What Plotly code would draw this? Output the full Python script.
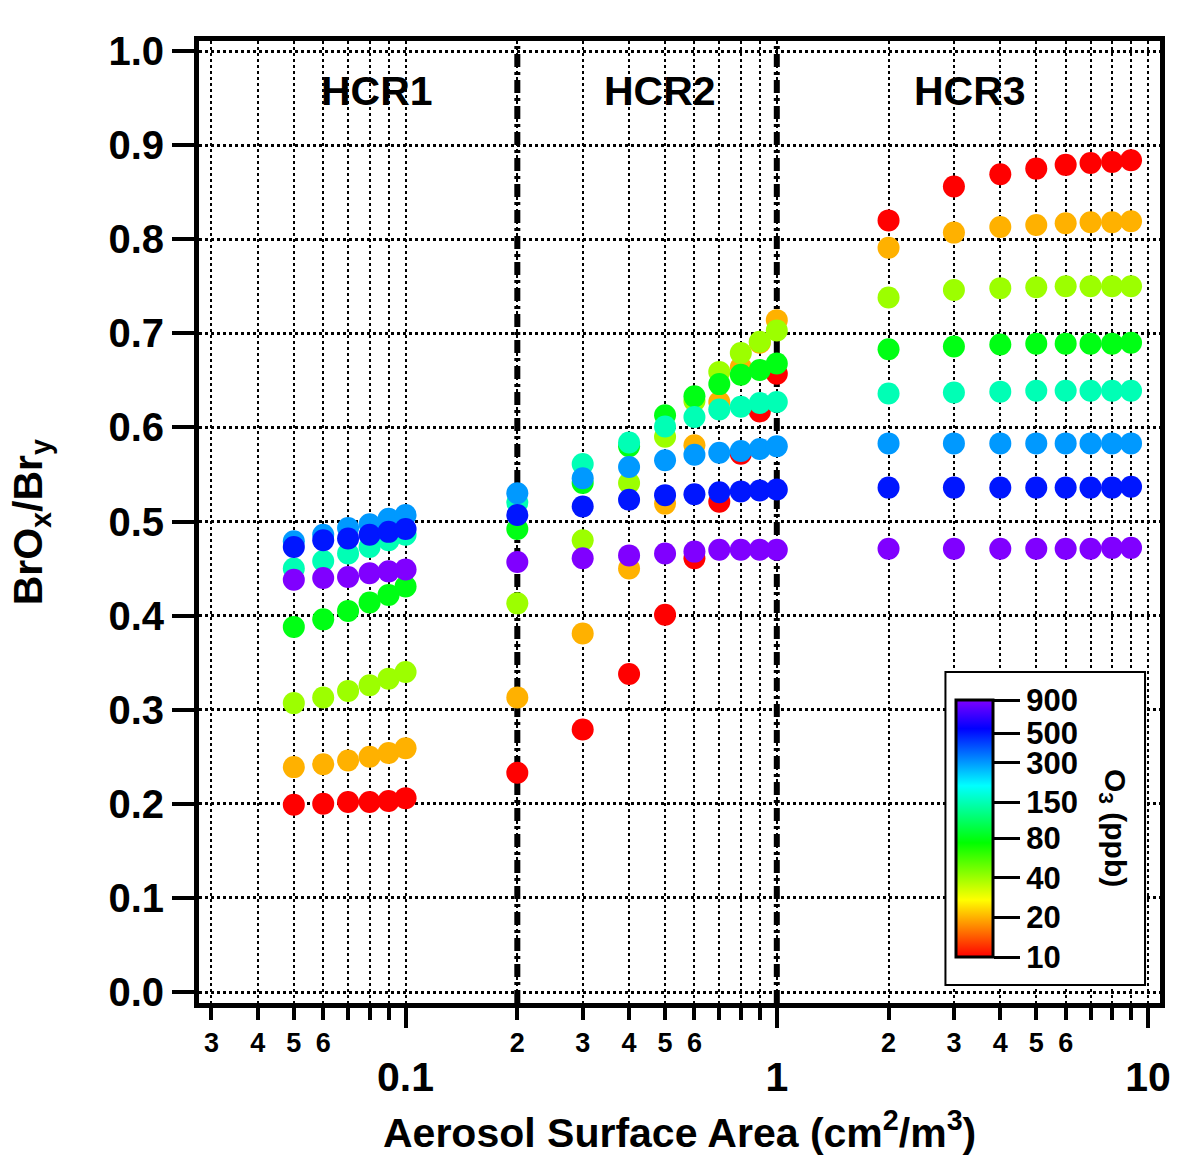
import math
import plotly.graph_objects as go

# ---------------- data ----------------
x_hcr1 = [0.05, 0.06, 0.07, 0.08, 0.09, 0.10]
x_hcr2 = [0.2, 0.3, 0.4, 0.5, 0.6, 0.7, 0.8, 0.9, 1.0]
x_hcr3 = [2, 3, 4, 5, 6, 7, 8, 9]
o3_levels = [10, 20, 40, 80, 150, 300, 500, 900]

# BrOx/Bry for each O3 level: HCR1 (6) + HCR2 (9) + HCR3 (8)
ratio_o3_10 = [0.199, 0.200, 0.202, 0.202, 0.203, 0.206,
               0.233, 0.279, 0.338, 0.401, 0.461, 0.521, 0.572, 0.617, 0.657,
               0.820, 0.856, 0.869, 0.875, 0.879, 0.881, 0.882, 0.884]
ratio_o3_20 = [0.239, 0.242, 0.246, 0.250, 0.254, 0.259,
               0.313, 0.381, 0.450, 0.519, 0.581, 0.627, 0.664, 0.690, 0.714,
               0.791, 0.807, 0.813, 0.815, 0.817, 0.818, 0.818, 0.819]
ratio_o3_40 = [0.307, 0.313, 0.320, 0.326, 0.333, 0.340,
               0.413, 0.480, 0.541, 0.590, 0.628, 0.659, 0.679, 0.691, 0.703,
               0.738, 0.746, 0.748, 0.749, 0.750, 0.750, 0.750, 0.750]
ratio_o3_80 = [0.388, 0.396, 0.405, 0.414, 0.422, 0.431,
               0.492, 0.541, 0.580, 0.613, 0.633, 0.646, 0.656, 0.661, 0.668,
               0.683, 0.686, 0.688, 0.689, 0.689, 0.689, 0.689, 0.690]
ratio_o3_150 = [0.450, 0.458, 0.466, 0.473, 0.480, 0.486,
                0.520, 0.561, 0.584, 0.601, 0.611, 0.619, 0.622, 0.626, 0.627,
                0.636, 0.637, 0.638, 0.639, 0.639, 0.639, 0.639, 0.639]
ratio_o3_300 = [0.479, 0.486, 0.493, 0.497, 0.503, 0.507,
                0.530, 0.546, 0.558, 0.565, 0.571, 0.573, 0.575, 0.577, 0.580,
                0.583, 0.583, 0.583, 0.583, 0.583, 0.583, 0.583, 0.583]
ratio_o3_500 = [0.473, 0.480, 0.482, 0.486, 0.489, 0.492,
                0.507, 0.516, 0.523, 0.528, 0.529, 0.531, 0.532, 0.533, 0.534,
                0.536, 0.536, 0.536, 0.536, 0.536, 0.536, 0.536, 0.537]
ratio_o3_900 = [0.438, 0.440, 0.441, 0.445, 0.447, 0.449,
                0.457, 0.461, 0.464, 0.466, 0.468, 0.470, 0.470, 0.470, 0.470,
                0.471, 0.471, 0.471, 0.471, 0.471, 0.471, 0.472, 0.472]

region_labels = ["HCR1", "HCR2", "HCR3"]
region_label_x = [0.084, 0.485, 3.32]
region_bounds = [0.2, 1.0]

labeled_tick_vals = [0.03, 0.04, 0.05, 0.06,
                     0.2, 0.3, 0.4, 0.5, 0.6,
                     2, 3, 4, 5, 6]
labeled_tick_text = ["3", "4", "5", "6",
                     "2", "3", "4", "5", "6",
                     "2", "3", "4", "5", "6"]
unlabeled_tick_vals = [0.07, 0.08, 0.09, 0.7, 0.8, 0.9, 7, 8, 9]
major_tick_vals = [0.1, 1, 10]
major_tick_text = ["0.1", "1", "10"]
y_tick_vals = [0.0, 0.1, 0.2, 0.3, 0.4, 0.5, 0.6, 0.7, 0.8, 0.9, 1.0]
cbar_tick_vals = [10, 20, 40, 80, 150, 300, 500, 900]

# ---------------- layout geometry ----------------
W, H = 1183, 1156
L, R, T, B = 199, 1162, 41, 1003     # plot area in pixels
DEC = 372.0                           # pixels per decade
X01 = 406.0                           # pixel of x = 0.1
Y0PX, Y1PX = 992.0, 51.0              # pixels of y = 0 and y = 1

def px_x(p):
    return (p - L) / (R - L)

def px_y(p):
    return (B - p) / (B - T)

xr = [-1 - (X01 - L) / DEC, -1 + (R - X01) / DEC]
ppu = Y0PX - Y1PX
yr = [-(B - Y0PX) / ppu, 1 + (Y1PX - T) / ppu]

FONT = "Liberation Sans, Arial, sans-serif"
def bold(size):
    return dict(family=FONT, size=size, color="black", weight="bold")

colorscale = [
    [0.0, "rgb(255,0,0)"],
    [0.2222, "rgb(255,255,0)"],
    [0.4444, "rgb(0,255,0)"],
    [0.6667, "rgb(0,255,255)"],
    [0.8889, "rgb(0,0,255)"],
    [1.0, "rgb(128,0,255)"],
]

series = [ratio_o3_10, ratio_o3_20, ratio_o3_40, ratio_o3_80,
          ratio_o3_150, ratio_o3_300, ratio_o3_500, ratio_o3_900]
x_all = x_hcr1 + x_hcr2 + x_hcr3

fig = go.Figure()
for o3, vals in zip(o3_levels, series):
    fig.add_trace(go.Scatter(
        x=x_all, y=vals, mode="markers",
        marker=dict(size=22, color=[math.log10(o3)] * len(vals),
                    coloraxis="coloraxis", line=dict(width=0)),
        showlegend=False, name=f"{o3} ppb",
    ))

# empty trace hosting the overlay axis with the decade labels
fig.add_trace(go.Scatter(x=[], y=[], xaxis="x2", yaxis="y", showlegend=False))

shapes = []
for xb in region_bounds:
    shapes.append(dict(type="line", xref="x", yref="paper", x0=xb, x1=xb, y0=0, y1=1,
                       line=dict(color="black", width=6, dash="13px,5px,3px,5px"),
                       layer="between"))
shapes.append(dict(type="rect", xref="paper", yref="paper",
                   x0=px_x(947), x1=px_x(1147), y0=px_y(985), y1=px_y(672),
                   fillcolor="white", line=dict(color="black", width=2), layer="above"))

annotations = []
for lab, lx in zip(region_labels, region_label_x):
    annotations.append(dict(text=lab, x=math.log10(lx), y=px_y(91), xref="x", yref="paper",
                            showarrow=False, font=bold(41), xanchor="center", yanchor="middle"))
annotations.append(dict(text="Aerosol Surface Area (cm<sup>2</sup>/m<sup>3</sup>)",
                        x=px_x(681), y=px_y(1130), xref="paper", yref="paper",
                        showarrow=False, font=bold(41), xanchor="center", yanchor="middle"))
annotations.append(dict(text="BrO<sub>x</sub>/Br<sub>y</sub>",
                        x=px_x(31), y=px_y(522), xref="paper", yref="paper", textangle=-90,
                        showarrow=False, font=bold(41), xanchor="center", yanchor="middle"))
annotations.append(dict(text="O<sub>3</sub> (ppb)",
                        x=px_x(1116), y=px_y(828), xref="paper", yref="paper", textangle=90,
                        showarrow=False, font=bold(30), xanchor="center", yanchor="middle"))

grid_style = dict(showgrid=True, gridcolor="black", gridwidth=2, griddash="dot")

fig.update_layout(
    width=W, height=H,
    margin=dict(l=L, r=W - R, t=T, b=H - B, pad=0),
    paper_bgcolor="white", plot_bgcolor="white",
    showlegend=False,
    xaxis=dict(
        type="log", range=xr, tickmode="array", tickvals=labeled_tick_vals, ticktext=labeled_tick_text,
        ticks="outside", ticklen=12, tickwidth=4, tickcolor="black",
        tickfont=bold(27), showline=True, linewidth=5, linecolor="black", mirror=True,
        zeroline=False, **grid_style,
        minor=dict(tickmode="array", tickvals=unlabeled_tick_vals, ticks="outside",
                   ticklen=12, tickwidth=4, tickcolor="black", **grid_style),
    ),
    xaxis2=dict(
        type="log", range=xr, overlaying="x", anchor="y", side="bottom",
        tickmode="array", tickvals=major_tick_vals, ticktext=major_tick_text,
        ticks="outside", ticklen=24, tickwidth=4, tickcolor="black",
        tickfont=bold(41), ticklabelstandoff=14, showline=False,
        zeroline=False, **grid_style,
    ),
    yaxis=dict(
        range=yr, tickmode="array", tickvals=y_tick_vals, tickformat=".1f",
        ticks="outside", ticklen=22, tickwidth=4, tickcolor="black",
        tickfont=bold(40), showline=True, linewidth=5, linecolor="black", mirror=True,
        showgrid=True, gridcolor="black", gridwidth=3, griddash="dot", zeroline=False,
    ),
    coloraxis=dict(
        colorscale=colorscale, cmin=math.log10(10), cmax=math.log10(900),
        colorbar=dict(
            x=px_x(958), xanchor="left", y=px_y(957), yanchor="bottom",
            len=257, lenmode="pixels", thickness=37, thicknessmode="pixels",
            xpad=0, ypad=0, outlinewidth=3, outlinecolor="black", borderwidth=0,
            bgcolor="rgba(0,0,0,0)",
            tickmode="array", tickvals=[math.log10(v) for v in cbar_tick_vals],
            ticktext=[str(v) for v in cbar_tick_vals],
            ticks="outside", ticklen=26, tickwidth=3, tickcolor="black",
            tickfont=bold(31),
        ),
    ),
    shapes=shapes,
    annotations=annotations,
)

fig.write_html("out.html")
